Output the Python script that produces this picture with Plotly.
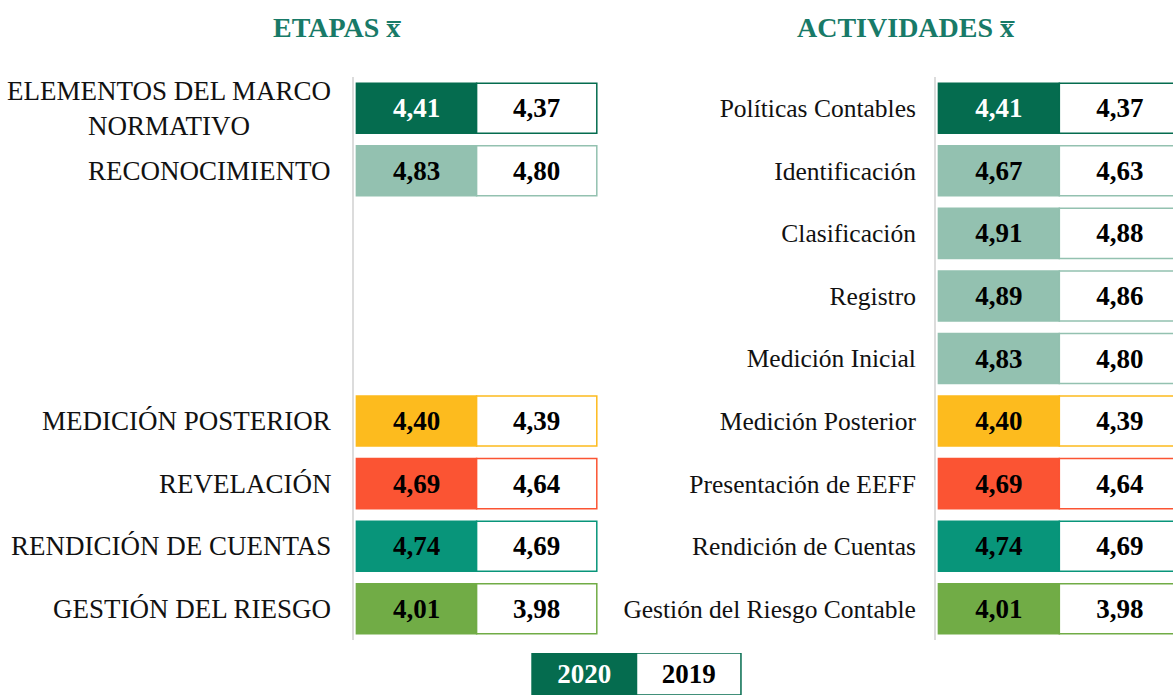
import plotly.graph_objects as go

# ---- data ----
actividades = ["Políticas Contables", "Identificación", "Clasificación", "Registro",
               "Medición Inicial", "Medición Posterior", "Presentación de EEFF",
               "Rendición de Cuentas", "Gestión del Riesgo Contable"]
act_2020 = [4.41, 4.67, 4.91, 4.89, 4.83, 4.40, 4.69, 4.74, 4.01]
act_2019 = [4.37, 4.63, 4.88, 4.86, 4.80, 4.39, 4.64, 4.69, 3.98]

etapas = ["ELEMENTOS DEL MARCO<br>NORMATIVO", "RECONOCIMIENTO", "MEDICIÓN POSTERIOR",
          "REVELACIÓN", "RENDICIÓN DE CUENTAS", "GESTIÓN DEL RIESGO"]
# activity row each stage is aligned with
etapa_fila = ["Políticas Contables", "Identificación", "Medición Posterior",
              "Presentación de EEFF", "Rendición de Cuentas", "Gestión del Riesgo Contable"]
etapa_2020 = [4.41, 4.83, 4.40, 4.69, 4.74, 4.01]
etapa_2019 = [4.37, 4.80, 4.39, 4.64, 4.69, 3.98]

anios = ["2020", "2019"]

# ---- styles ----
DARK = "#056C4F"
LIGHT = "#93C1B0"
YELLOW = "#FDBB1E"
RED = "#FB5433"
TEAL = "#08957A"
OLIVE = "#71AC46"
TITLE_C = "#187A68"
SERIF = "Liberation Serif"

act_colors = [DARK, LIGHT, LIGHT, LIGHT, LIGHT, YELLOW, RED, TEAL, OLIVE]
etapa_colors = [DARK, LIGHT, YELLOW, RED, TEAL, OLIVE]
VAL_SIZE = 27


def txtcol(cols):
    return ["white" if c == DARK else "black" for c in cols]


fig = go.Figure()


def add_pair(y, v20, v19, cols, xa, ya):
    n = len(y)
    fig.add_trace(go.Bar(
        orientation="h", y=y, x=[1] * n, base=[0] * n, customdata=v20,
        texttemplate="%{customdata:.2f}", textposition="inside",
        insidetextanchor="middle", constraintext="none",
        textfont=dict(family=SERIF, size=VAL_SIZE, color=txtcol(cols), weight="bold"),
        marker=dict(color=cols, line=dict(color=cols, width=1.5)),
        width=0.8, xaxis=xa, yaxis=ya, showlegend=False, hoverinfo="skip"))
    fig.add_trace(go.Bar(
        orientation="h", y=y, x=[1] * n, base=[1] * n, customdata=v19,
        texttemplate="%{customdata:.2f}", textposition="inside",
        insidetextanchor="middle", constraintext="none",
        textfont=dict(family=SERIF, size=VAL_SIZE, color="black", weight="bold"),
        marker=dict(color="white", line=dict(color=cols, width=1.5)),
        width=0.8, xaxis=xa, yaxis=ya, showlegend=False, hoverinfo="skip"))


add_pair(etapa_fila, etapa_2020, etapa_2019, etapa_colors, "x", "y")
add_pair(actividades, act_2020, act_2019, act_colors, "x2", "y2")

# legend boxes
fig.add_trace(go.Bar(
    orientation="h", y=["año"] * 2, x=[1, 1], base=[0, 1], text=anios,
    textposition="inside", insidetextanchor="middle", constraintext="none",
    textfont=dict(family=SERIF, size=VAL_SIZE, color=["white", "black"], weight="bold"),
    marker=dict(color=[DARK, "white"], line=dict(color=DARK, width=1.5)),
    width=1, xaxis="x3", yaxis="y3", showlegend=False, hoverinfo="skip"))

W, H = 1173, 695
ydom = [55 / H, 1 - 77 / H]

fig.update_layout(
    width=W, height=H, margin=dict(l=0, r=0, t=0, b=0),
    paper_bgcolor="white", plot_bgcolor="white",
    separators=",.", barmode="overlay",
    xaxis=dict(domain=[354 / W, 598 / W], range=[-0.02, 2.01], visible=False),
    yaxis=dict(domain=ydom, categoryorder="array", categoryarray=actividades,
               range=[8.5, -0.5], showticklabels=False, showgrid=False,
               showline=True, linecolor="#DCDCDC", linewidth=2, ticks="",
               zeroline=False, anchor="x"),
    xaxis2=dict(domain=[936 / W, 1.0], range=[-0.02, 1.94], visible=False),
    yaxis2=dict(domain=ydom, categoryorder="array", categoryarray=actividades,
                range=[8.5, -0.5], showgrid=False, showline=True,
                linecolor="#DCDCDC", linewidth=2, ticks="", ticklabelstandoff=13,
                tickfont=dict(family=SERIF, size=25.5, color="#111111"),
                zeroline=False, anchor="x2"),
    xaxis3=dict(domain=[531 / W, 742 / W], range=[-0.01, 2.01], visible=False),
    yaxis3=dict(domain=[0, 42 / H], range=[-0.5, 0.5], visible=False, anchor="x3"),
)

for lab, fila in zip(etapas, etapa_fila):
    fig.add_annotation(text=lab, x=333 / W, xref="paper", xanchor="right",
                       y=fila, yref="y", showarrow=False, align="center",
                       font=dict(family=SERIF, size=27, color="#111111"))

for t, xc in [("ETAPAS x\u0305", 337), ("ACTIVIDADES x\u0305", 907)]:
    fig.add_annotation(text=t, x=xc / W, xref="paper", xanchor="center",
                       y=1 - 27 / H, yref="paper", yanchor="middle", showarrow=False,
                       font=dict(family=SERIF, size=28, color=TITLE_C, weight="bold"))

fig.write_html("out.html", config={"displayModeBar": False},
               post_script="document.body.style.margin='0';document.body.style.overflow='hidden';")
